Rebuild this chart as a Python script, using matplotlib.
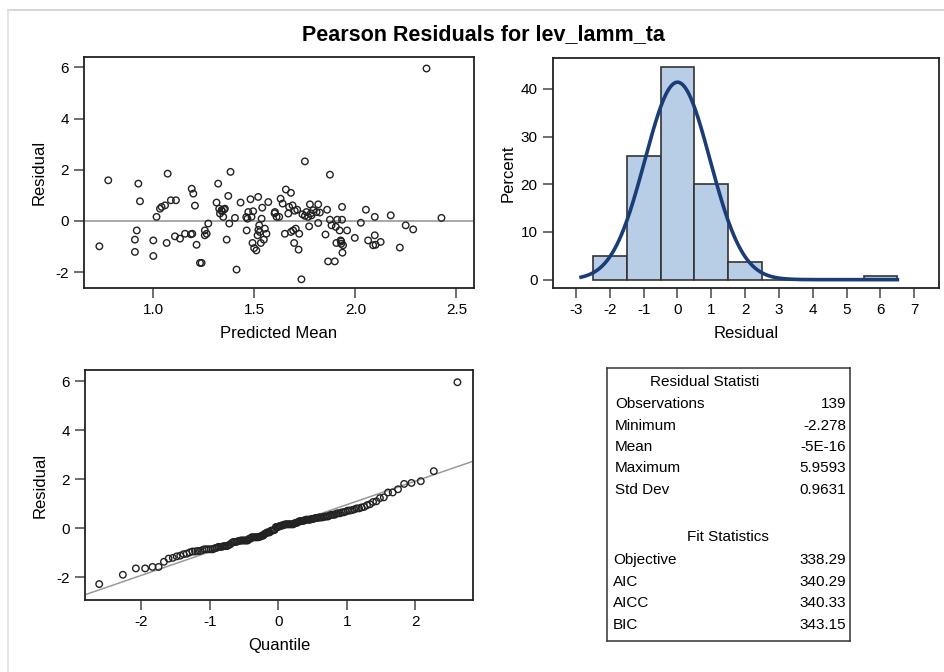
import numpy as np
import matplotlib
matplotlib.use("Agg")
import matplotlib.pyplot as plt
from statistics import NormalDist

plt.rcParams['font.family'] = ['Liberation Sans', 'DejaVu Sans']
plt.rcParams['axes.unicode_minus'] = False

# ---------------- data ----------------
pred_mean = [0.733, 0.777, 0.909, 0.918, 0.909, 0.926, 0.934, 1.000, 1.000, 1.016,
             1.033, 1.041, 1.058, 1.066, 1.071, 1.087, 1.112, 1.107, 1.132, 1.157,
             1.186, 1.193, 1.190, 1.198, 1.206, 1.214, 1.231, 1.239, 1.255, 1.255,
             1.272, 1.264, 1.313, 1.321, 1.326, 1.330, 1.338, 1.346, 1.354, 1.363,
             1.371, 1.376, 1.382, 1.404, 1.412, 1.432, 1.462, 1.466, 1.470, 1.481,
             1.486, 1.491, 1.494, 1.499, 1.510, 1.516, 1.519, 1.524, 1.527, 1.532,
             1.536, 1.539, 1.547, 1.552, 1.560, 1.569, 1.602, 1.610, 1.623, 1.630,
             1.640, 1.651, 1.656, 1.668, 1.672, 1.681, 1.681, 1.689, 1.692, 1.697,
             1.705, 1.712, 1.719, 1.722, 1.733, 1.738, 1.750, 1.758, 1.766, 1.771,
             1.775, 1.783, 1.791, 1.808, 1.816, 1.816, 1.824, 1.852, 1.860, 1.865,
             1.874, 1.874, 1.882, 1.898, 1.903, 1.906, 1.910, 1.922, 1.927, 1.930,
             1.934, 1.934, 1.936, 1.939, 1.959, 1.997, 2.027, 2.052, 2.063, 2.088,
             2.096, 2.096, 2.100, 2.125, 2.175, 2.220, 2.249, 2.286, 2.352, 2.426,
             1.350, 1.520, 1.700, 1.780, 1.600, 1.930, 1.460, 1.750, 1.340]
residual = [-0.99, 1.59, -0.73, -0.37, -1.21, 1.46, 0.77, -0.76, -1.37, 0.16,
            0.48, 0.55, 0.61, -0.86, 1.85, 0.81, 0.81, -0.60, -0.69, -0.50,
            -0.52, -0.50, 1.26, 1.07, 0.60, -0.93, -1.64, -1.64, -0.56, -0.37,
            -0.10, -0.50, 0.72, 1.46, 0.48, 0.29, 0.42, 0.16, 0.48, -0.73,
            0.98, -0.10, 1.92, 0.12, -1.90, 0.72, -0.37, 0.09, 0.35, 0.85,
            0.16, -0.86, 0.38, -1.06, -1.15, -0.56, 0.94, -0.17, -0.43, -0.86,
            0.09, 0.52, -0.73, -0.30, -0.50, 0.74, 0.35, 0.16, 0.16, 0.87,
            0.68, -0.50, 1.23, 0.29, 0.55, 1.10, -0.43, 0.61, -0.37, -0.86,
            -0.30, 0.44, -1.12, -0.50, -2.28, 0.26, 2.33, 0.35, 0.16, -0.21,
            0.65, 0.22, 0.42, 0.35, 0.65, -0.08, 0.33, -0.53, 0.44, -1.58,
            1.81, 0.05, -0.17, -1.58, -0.23, -0.86, 0.05, -0.37, -0.76, -0.89,
            0.05, 0.55, -1.24, -0.95, -0.37, -0.66, -0.07, 0.44, -0.76, -0.95,
            -0.56, 0.16, -0.93, -0.82, 0.22, -1.04, -0.17, -0.33, 5.96, 0.12,
            0.45, -0.35, 0.40, 0.30, 0.30, -0.80, 0.15, 0.20, 0.38]

hist_centers = [-2, -1, 0, 1, 2, 3, 4, 5, 6]
hist_percent = [5.04, 25.9, 44.6, 20.1, 3.6, 0.0, 0.0, 0.0, 0.72]
resid_mean = 0.0
resid_std = 0.9631

stat_labels = ["Observations", "Minimum", "Mean", "Maximum", "Std Dev"]
stat_values = ["139", "-2.278", "-5E-16", "5.9593", "0.9631"]
fit_labels = ["Objective", "AIC", "AICC", "BIC"]
fit_values = ["338.29", "340.29", "340.33", "343.15"]

# ---------------- figure ----------------
W, H = 944, 672
fig = plt.figure(figsize=(W / 100, H / 100), dpi=100)

def ax_px(l, t, r, b):
    return fig.add_axes([l / W, 1 - b / H, (r - l) / W, (b - t) / H])

# light page border
fig.add_artist(plt.Line2D([8 / W, 1], [1 - 10 / H, 1 - 10 / H], color='#d0d0d0', lw=1.2))
fig.add_artist(plt.Line2D([8 / W, 8 / W], [0, 1 - 10 / H], color='#e0e0e0', lw=1.2))

TICK_FS = 11
LAB_FS = 12
frame_c = '#222222'

def style(ax):
    for s in ax.spines.values():
        s.set_color(frame_c)
        s.set_linewidth(1.3)
    ax.tick_params(direction='out', length=7, width=1.2, color='#555555',
                   labelsize=TICK_FS, pad=4)

# Scatter: residual vs predicted mean
ax1 = ax_px(84, 57, 474, 288)
ax1.axhline(0, color='#999999', lw=1.2, zorder=1)
ax1.scatter(pred_mean, residual, s=22, facecolors='none', edgecolors='#222222',
            linewidths=1.0, zorder=3)
ax1.set_xlim(0.657, 2.587)
ax1.set_ylim(-2.62, 6.41)
ax1.set_xticks([1.0, 1.5, 2.0, 2.5])
ax1.set_xticklabels(['1.0', '1.5', '2.0', '2.5'])
ax1.set_yticks([-2, 0, 2, 4, 6])
ax1.set_xlabel('Predicted Mean', fontsize=LAB_FS, labelpad=6)
ax1.set_ylabel('Residual', fontsize=LAB_FS, labelpad=6)
style(ax1)

# Histogram
ax2 = ax_px(553, 58, 939, 288)
ax2.bar(hist_centers, hist_percent, width=1.0, color='#b8cde6',
        edgecolor='#333333', linewidth=1.2, zorder=2)
xs = np.linspace(-2.85, 6.5, 400)
dens = [100 * NormalDist(resid_mean, resid_std).pdf(v) for v in xs]
ax2.plot(xs, dens, color='#1a3d78', lw=2.6, zorder=3)
ax2.set_xlim(-3.68, 7.73)
ax2.set_ylim(-1.75, 46.5)
ax2.set_xticks(range(-3, 8))
ax2.set_yticks([0, 10, 20, 30, 40])
ax2.set_xlabel('Residual', fontsize=LAB_FS, labelpad=6)
ax2.set_ylabel('Percent', fontsize=LAB_FS, labelpad=4)
style(ax2)

# Q-Q plot
ax3 = ax_px(85, 370, 473, 600)
srt = np.sort(residual)
n = len(srt)
nd = NormalDist()
q = [nd.inv_cdf((i + 1 - 0.375) / (n + 0.25)) for i in range(n)]
ax3.set_xlim(-2.82, 2.84)
ax3.set_ylim(-2.93, 6.46)
lx = np.array([-2.82, 2.84])
ax3.plot(lx, resid_mean + resid_std * lx, color='#999999', lw=1.1, zorder=1)
ax3.scatter(q, srt, s=22, facecolors='none', edgecolors='#222222',
            linewidths=1.0, zorder=3)
ax3.set_xticks([-2, -1, 0, 1, 2])
ax3.set_yticks([-2, 0, 2, 4, 6])
ax3.set_xlabel('Quantile', fontsize=LAB_FS, labelpad=6)
ax3.set_ylabel('Residual', fontsize=LAB_FS, labelpad=6)
style(ax3)

# Statistics table
ax4 = ax_px(607, 368, 850, 641)
ax4.set_xlim(607, 850)
ax4.set_ylim(641, 368)
ax4.set_xticks([])
ax4.set_yticks([])
for s in ax4.spines.values():
    s.set_color('#333333')
    s.set_linewidth(1.1)
TFS = 11
ax4.text(705, 382, 'Residual Statisti', ha='center', va='center', fontsize=TFS)
for i, (lab, val) in enumerate(zip(stat_labels, stat_values)):
    y = 404 + i * 21.5
    ax4.text(615, y, lab, ha='left', va='center', fontsize=TFS)
    ax4.text(846, y, val, ha='right', va='center', fontsize=TFS)
ax4.text(728, 537, 'Fit Statistics', ha='center', va='center', fontsize=TFS)
for i, (lab, val) in enumerate(zip(fit_labels, fit_values)):
    y = 560 + i * 21.7
    ax4.text(613, y, lab, ha='left', va='center', fontsize=TFS)
    ax4.text(846, y, val, ha='right', va='center', fontsize=TFS)

fig.text(483 / W, 1 - 35 / H, 'Pearson Residuals for lev_lamm_ta', ha='center',
         va='center', fontsize=15.5, fontweight='bold')

fig.savefig('out.png', dpi=100)
